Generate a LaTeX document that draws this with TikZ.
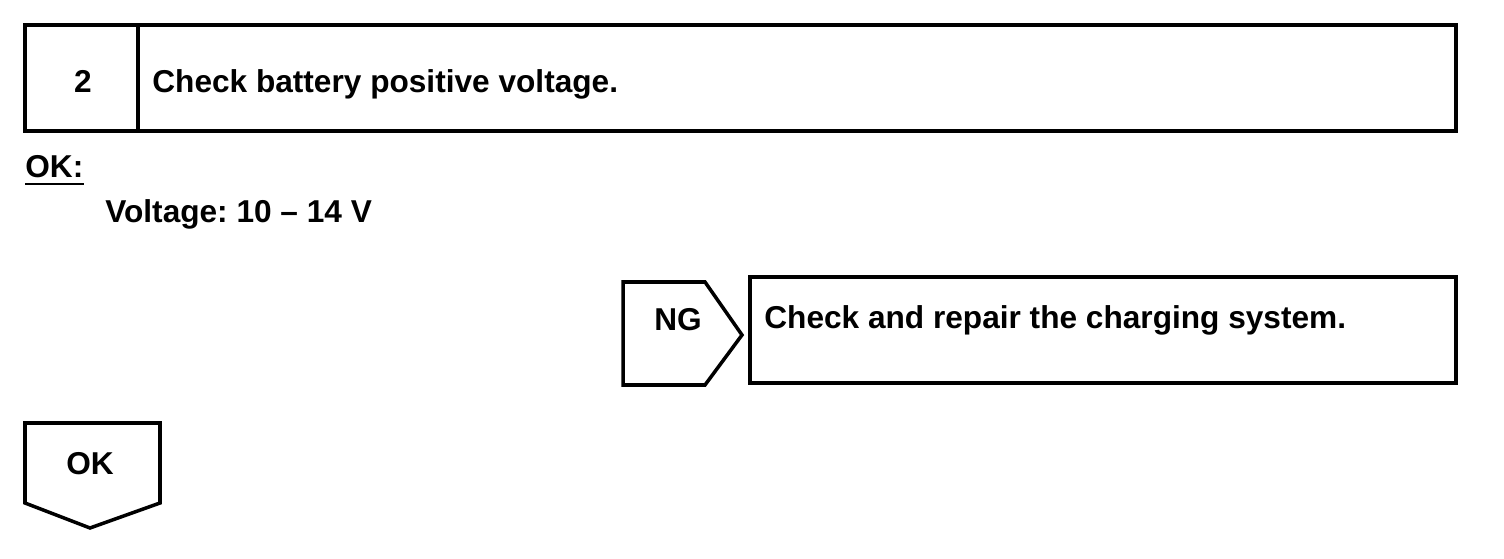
\documentclass[tikz,border=0pt]{standalone}
\usepackage{fontspec}
\setmainfont{Liberation Sans}
\usetikzlibrary{calc}
\frenchspacing
\newcommand{\tagright}[1]{\draw[frame] #1 -- ++(82,0) -- ++(37,-53) -- ++(-37,-50) -- ++(-82,0) -- cycle;}
\newcommand{\tagdown}[1]{\draw[frame] #1 -- ++(135,0) -- ++(0,-80) -- ++(-70,-25) -- ++(-65,25) -- cycle;}
\begin{document}
\begin{tikzpicture}[x=0.02cm,y=0.02cm,
		frame/.style={draw=black,line width=2pt,line join=miter},
		label/.style={font=\bfseries\fontsize{18}{22}\selectfont,inner sep=0pt}]
		\useasboundingbox (0,0) rectangle (1504,558);
		% step header
		\draw[frame] (25,427) rectangle (1456,533);
		\draw[frame] (138,427) -- (138,533);
		\node[label,anchor=base] (stepno) at (83,465) {2};
		\node[label,anchor=base west] (steptitle) at (152,465) {Check battery positive voltage.};
		% standard value
		\node[label,anchor=base west] (okhead) at (25,380) {OK:};
		\draw[line width=1.3pt] ($(okhead.base west)+(0,-6)$) -- ($(okhead.base east)+(0,-6)$);
		\node[label,anchor=base west] (okvalue) at (105,335) {Voltage: 10 -- 14 V};
		% NG branch
		\tagright{(623,276)}
		\node[label,anchor=base] (ngtag) at (678,227) {NG};
		\draw[frame] (750,175) rectangle (1456,281);
		\node[label,anchor=base west] (ngaction) at (764,229) {Check and repair the charging system.};
		% OK branch
		\tagdown{(25,135)}
		\node[label,anchor=base] (oktag) at (90,84) {OK};
\end{tikzpicture}
\end{document}
